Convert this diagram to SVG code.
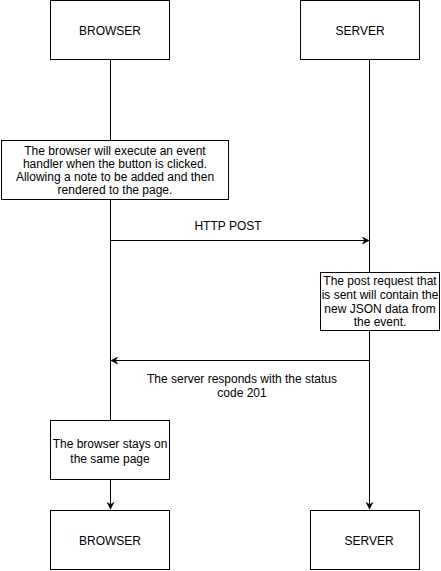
<svg xmlns="http://www.w3.org/2000/svg" width="441" height="571" viewBox="0 0 441 571">
<style>
.box{fill:#fff;stroke:#000;stroke-width:1}
.ln{fill:none;stroke:#000;stroke-width:1}
text{font-family:"Liberation Sans",Arial,Helvetica,sans-serif;font-size:12px;fill:#000;text-anchor:middle}
</style>
<defs>
<marker id="ah" viewBox="0 0 10 10" refX="9" refY="5" markerWidth="8" markerHeight="8" markerUnits="userSpaceOnUse" orient="auto">
<path d="M0,0 L10,5 L0,10 L3,5 Z" fill="#000"/>
</marker>
</defs>
<rect width="441" height="571" fill="#fff"/>
<g id="connectors">
<path class="ln" d="M110.5,60 V140"/>
<path class="ln" d="M110.5,200 V420"/>
<path class="ln" d="M110.5,480 V509" marker-end="url(#ah)"/>
<path class="ln" d="M369.5,60 V509" marker-end="url(#ah)"/>
<path class="ln" d="M110.5,240.5 H369" marker-end="url(#ah)"/>
<path class="ln" d="M369.5,360.5 H111" marker-end="url(#ah)"/>
<text x="228" y="230">HTTP POST</text>
<text x="242" y="383">The server responds with the status</text>
<text x="242" y="397">code 201</text>
</g>
<g id="browser-top">
<rect class="box" x="50.5" y="0.5" width="119" height="59"/>
<text x="110" y="35">BROWSER</text>
</g>
<g id="server-top">
<rect class="box" x="300.5" y="0.5" width="119" height="59"/>
<text x="360" y="35">SERVER</text>
</g>
<g id="browser-note">
<rect class="box" x="1.5" y="140.5" width="227" height="59"/>
<text x="115" y="155">The browser will execute an event</text>
<text x="115" y="168">handler when the button is clicked.</text>
<text x="115" y="181">Allowing a note to be added and then</text>
<text x="115" y="194">rendered to the page.</text>
</g>
<g id="post-note">
<rect class="box" x="320.5" y="272.5" width="119" height="58"/>
<text x="380" y="285">The post request that</text>
<text x="380" y="299">is sent will contain the</text>
<text x="380" y="313">new JSON data from</text>
<text x="380" y="326">the event.</text>
</g>
<g id="browser-stays">
<rect class="box" x="50.5" y="420.5" width="119" height="59"/>
<text x="110" y="448">The browser stays on</text>
<text x="110" y="463">the same page</text>
</g>
<g id="browser-bottom">
<rect class="box" x="50.5" y="510.5" width="119" height="59"/>
<text x="110" y="545">BROWSER</text>
</g>
<g id="server-bottom">
<rect class="box" x="310.5" y="510.5" width="109" height="59"/>
<text x="369" y="545">SERVER</text>
</g>
</svg>
